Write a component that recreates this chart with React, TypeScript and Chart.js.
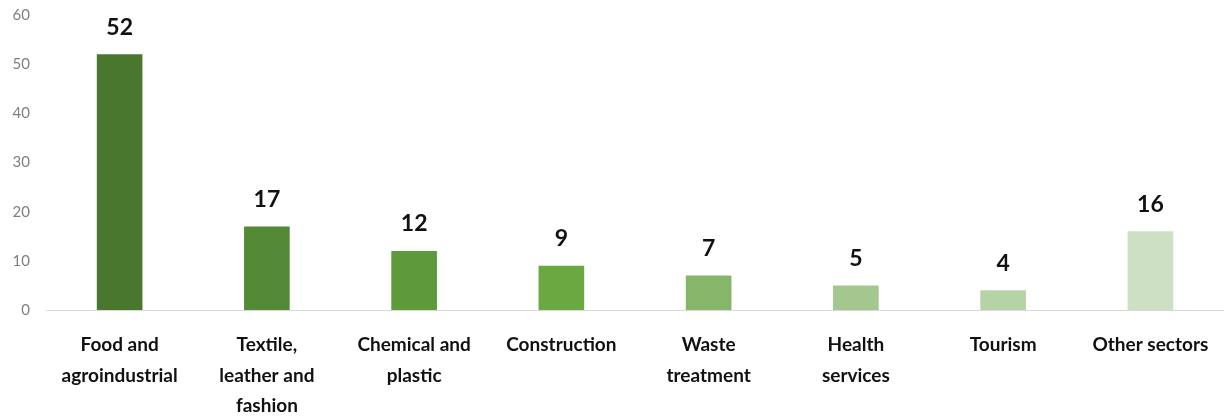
import React, { useEffect, useRef } from "react";
import { Chart, registerables } from "chart.js";

Chart.register(...registerables);

const categories: string[][] = [
  ["Food and", "agroindustrial"],
  ["Textile,", "leather and", "fashion"],
  ["Chemical and", "plastic"],
  ["Construction"],
  ["Waste", "treatment"],
  ["Health", "services"],
  ["Tourism"],
  ["Other sectors"],
];
const values: number[] = [52, 17, 12, 9, 7, 5, 4, 16];
const barColors: string[] = [
  "#4a772e",
  "#548a36",
  "#5e9a3a",
  "#6aa842",
  "#86b66a",
  "#a3c78e",
  "#b6d3a6",
  "#cde0c4",
];
const yTicks: number[] = [0, 10, 20, 30, 40, 50, 60];

const FONT = "Lato, 'Open Sans', sans-serif";

const valueLabels = {
  id: "valueLabels",
  afterDatasetsDraw(chart: any) {
    const ctx = chart.ctx;
    const meta = chart.getDatasetMeta(0);
    ctx.save();
    ctx.font = `bold 23px ${FONT}`;
    ctx.fillStyle = "#111111";
    ctx.textAlign = "center";
    ctx.textBaseline = "middle";
    meta.data.forEach((bar: any, i: number) => {
      ctx.fillText(String(values[i]), bar.x, bar.y - 27);
    });
    ctx.restore();
  },
};

export default function App() {
  const ref = useRef<HTMLCanvasElement>(null);
  useEffect(() => {
    document.body.style.margin = "0";
    const chart = new Chart(ref.current!, {
      type: "bar",
      data: {
        labels: categories,
        datasets: [
          {
            data: values,
            backgroundColor: barColors,
            barPercentage: 0.62,
            categoryPercentage: 0.5,
          },
        ],
      },
      options: {
        animation: false,
        responsive: false,
        maintainAspectRatio: false,
        layout: { padding: { top: 15, left: 0, right: 0, bottom: 0 } },
        plugins: { legend: { display: false }, tooltip: { enabled: false } },
        scales: {
          x: {
            grid: { display: false, drawTicks: false },
            border: { display: true, color: "#d9d9d9", width: 1 },
            afterFit: (axis: any) => {
              axis.height = 107;
              axis.paddingLeft = 0;
              axis.paddingRight = 0;
            },
            ticks: {
              color: "#111111",
              font: { family: FONT, size: 19, weight: "bold", lineHeight: 1.6 },
              padding: 20,
              maxRotation: 0,
              autoSkip: false,
            },
          },
          y: {
            min: 0,
            max: 60,
            afterBuildTicks: (axis: any) => {
              axis.ticks = yTicks.map((v) => ({ value: v }));
            },
            afterFit: (axis: any) => {
              axis.width = 46;
              axis.paddingTop = 0;
              axis.paddingBottom = 0;
            },
            grid: { display: false, drawTicks: false },
            border: { display: false },
            ticks: {
              color: "#7f7f7f",
              font: { family: FONT, size: 15 },
              padding: 16,
            },
          },
        },
      },
      plugins: [valueLabels],
    });
    return () => chart.destroy();
  }, []);
  return (
    <div style={{ width: 1224, height: 417 }}>
      <canvas ref={ref} width={1224} height={417} />
    </div>
  );
}
